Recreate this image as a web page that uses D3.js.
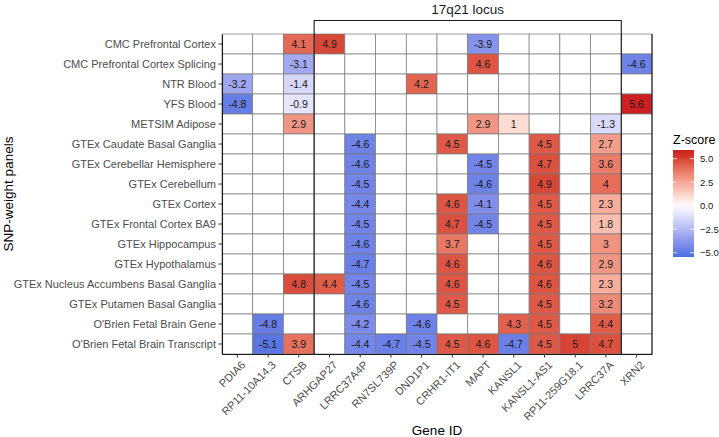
<!DOCTYPE html>
<html><head><meta charset="utf-8">
<script src="https://cdn.jsdelivr.net/npm/d3@7"></script>
<style>
html,body{margin:0;padding:0;background:#fff;}
svg{display:block;font-family:"Liberation Sans",Arial,sans-serif;}
</style></head>
<body><svg id="chart" width="719" height="437"></svg>
<script>
const panels = ["CMC Prefrontal Cortex","CMC Prefrontal Cortex Splicing","NTR Blood","YFS Blood","METSIM Adipose","GTEx Caudate Basal Ganglia","GTEx Cerebellar Hemisphere","GTEx Cerebellum","GTEx Cortex","GTEx Frontal Cortex BA9","GTEx Hippocampus","GTEx Hypothalamus","GTEx Nucleus Accumbens Basal Ganglia","GTEx Putamen Basal Ganglia","O'Brien Fetal Brain Gene","O'Brien Fetal Brain Transcript"];
const genes = ["PDIA6","RP11-10A14.3","CTSB","ARHGAP27","LRRC37A4P","RN7SL739P","DND1P1","CRHR1-IT1","MAPT","KANSL1","KANSL1-AS1","RP11-259G18.1","LRRC37A","XRN2"];
// z-scores: one row per panel, one column per gene (null = no value)
const zscores = [
 [null,null,4.1,4.9,null,null,null,null,-3.9,null,null,null,null,null],
 [null,null,-3.1,null,null,null,null,null,4.6,null,null,null,null,-4.6],
 [-3.2,null,-1.4,null,null,null,4.2,null,null,null,null,null,null,null],
 [-4.8,null,-0.9,null,null,null,null,null,null,null,null,null,null,5.6],
 [null,null,2.9,null,null,null,null,null,2.9,1,null,null,-1.3,null],
 [null,null,null,null,-4.6,null,null,4.5,null,null,4.5,null,2.7,null],
 [null,null,null,null,-4.6,null,null,null,-4.5,null,4.7,null,3.6,null],
 [null,null,null,null,-4.5,null,null,null,-4.6,null,4.9,null,4,null],
 [null,null,null,null,-4.4,null,null,4.6,-4.1,null,4.5,null,2.3,null],
 [null,null,null,null,-4.5,null,null,4.7,-4.5,null,4.5,null,1.8,null],
 [null,null,null,null,-4.6,null,null,3.7,null,null,4.5,null,3,null],
 [null,null,null,null,-4.7,null,null,4.6,null,null,4.6,null,2.9,null],
 [null,null,4.8,4.4,-4.5,null,null,4.6,null,null,4.6,null,2.3,null],
 [null,null,null,null,-4.6,null,null,4.5,null,null,4.5,null,3.2,null],
 [null,-4.8,null,null,-4.2,null,-4.6,null,null,4.3,4.5,null,4.4,null],
 [null,-5.1,3.9,null,-4.4,-4.7,-4.5,4.5,4.6,-4.7,4.5,5,4.7,null]
];
const locusGenes = ["ARHGAP27","LRRC37A"]; // first and last gene of the 17q21 locus
const legendTicks = [5,2.5,0,-2.5,-5];

const svg = d3.select("#chart");
const L=222, R=652, T=34, B=354;

const x = d3.scaleBand().domain(genes).range([L,R]).padding(0);
const y = d3.scaleBand().domain(panels).range([T,B]).padding(0);

const all = zscores.flat().filter(v=>v!==null);
const maxAbs = d3.max(all, v=>Math.abs(v));
const low = "#4169E1", high = "#CD1F1F";
function fill(v){
  if (v===null) return "#ffffff";
  const t = Math.min(1, Math.abs(v)/maxAbs);
  return v<0 ? d3.interpolateLab("#ffffff", low)(t) : d3.interpolateLab("#ffffff", high)(t);
}

const cells=[];
panels.forEach((p,i)=>genes.forEach((g,j)=>cells.push({p,g,v:zscores[i][j]})));

svg.append("g").selectAll("rect").data(cells).join("rect")
  .attr("x",d=>x(d.g)).attr("y",d=>y(d.p))
  .attr("width",x.bandwidth()).attr("height",y.bandwidth())
  .attr("fill",d=>fill(d.v)).attr("stroke","#7a7a7a").attr("stroke-width",0.7);

svg.append("g").selectAll("text").data(cells.filter(d=>d.v!==null)).join("text")
  .attr("x",d=>x(d.g)+x.bandwidth()/2).attr("y",d=>y(d.p)+y.bandwidth()/2)
  .attr("dy","0.36em").attr("text-anchor","middle")
  .attr("font-size",10.5).attr("fill","#1a1a1a").text(d=>d.v);

// axes
const xAxis = svg.append("g").attr("transform",`translate(0,${B})`)
  .call(d3.axisBottom(x).tickSize(3.5).tickSizeOuter(0));
const yAxis = svg.append("g").attr("transform",`translate(${L},0)`)
  .call(d3.axisLeft(y).tickSize(3.5).tickSizeOuter(0));
[xAxis,yAxis].forEach(a=>{
  a.select(".domain").attr("stroke","#1a1a1a").attr("stroke-width",1.1);
  a.selectAll(".tick line").attr("stroke","#333").attr("stroke-width",1);
  a.selectAll(".tick text").attr("fill","#4d4d4d").attr("font-size",11)
   .attr("font-family","'Liberation Sans',Arial,sans-serif");
});
yAxis.selectAll(".tick text").attr("x",-6);
xAxis.selectAll(".tick text")
  .attr("text-anchor","end").attr("dy",null).attr("y",null)
  .attr("transform","translate(3,6) rotate(-45)")
  .attr("dy","0.72em");

// right panel border
svg.append("line").attr("x1",R).attr("x2",R).attr("y1",T).attr("y2",B)
  .attr("stroke","#1a1a1a").attr("stroke-width",1.1);

// locus bracket
const bx1 = x(locusGenes[0]), bx2 = x(locusGenes[1])+x.bandwidth(), by = 20.5;
svg.append("path")
  .attr("d",`M${bx1},${B}V${by}H${bx2}V${B}`)
  .attr("fill","none").attr("stroke","#1a1a1a").attr("stroke-width",1.1);
svg.append("text").attr("x",(bx1+bx2)/2).attr("y",14).attr("text-anchor","middle")
  .attr("font-size",13.5).attr("fill","#1a1a1a").text("17q21 locus");

// axis titles
svg.append("text").attr("x",(L+R)/2).attr("y",435).attr("text-anchor","middle")
  .attr("font-size",13.5).attr("fill","#000").text("Gene ID");
svg.append("text").attr("transform",`translate(13,${(T+B)/2}) rotate(-90)`)
  .attr("text-anchor","middle").attr("font-size",13.5).attr("fill","#000").text("SNP-weight panels");

// legend
const ly = d3.scaleLinear().domain([0,5]).range([205.7,158.7]);
const barX=673, barW=21, barTop=150, barBot=257;
const defs = svg.append("defs");
const grad = defs.append("linearGradient").attr("id","zg").attr("x1",0).attr("x2",0).attr("y1",0).attr("y2",1);
d3.range(0,1.0001,0.05).forEach(f=>{
  const v = ly.invert(barTop + f*(barBot-barTop));
  const c = fill(Math.max(-maxAbs, Math.min(maxAbs, v)));
  grad.append("stop").attr("offset",f).attr("stop-color",c);
});
svg.append("rect").attr("x",barX).attr("y",barTop).attr("width",barW).attr("height",barBot-barTop).attr("fill","url(#zg)");
legendTicks.forEach(t=>{
  svg.append("line").attr("x1",barX).attr("x2",barX+4).attr("y1",ly(t)).attr("y2",ly(t)).attr("stroke","#fff").attr("stroke-width",0.8);
  svg.append("line").attr("x1",barX+barW-4).attr("x2",barX+barW).attr("y1",ly(t)).attr("y2",ly(t)).attr("stroke","#fff").attr("stroke-width",0.8);
  svg.append("text").attr("x",barX+barW+6).attr("y",ly(t)).attr("dy","0.36em")
    .attr("font-size",9.5).attr("fill","#1a1a1a").text(d3.format(".1f")(t));
});
svg.append("text").attr("x",barX).attr("y",144).attr("font-size",12.5).attr("fill","#000").text("Z-score");
</script></body></html>
